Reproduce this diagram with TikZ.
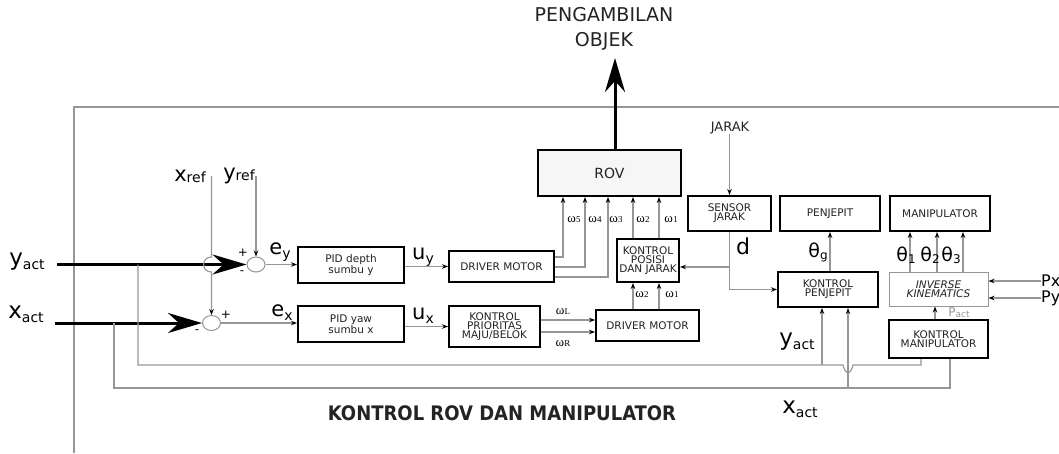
\documentclass[tikz,border=0pt]{standalone}
\usepackage{fontspec}
\setmainfont{DejaVu Sans}
\newfontfamily\condfont{DejaVu Sans Condensed}
\newfontfamily\omegafont{Liberation Serif}
\usepackage{xcolor}
\definecolor{lnGray}{RGB}{150,150,150}
\definecolor{bxFill}{RGB}{246,246,246}
\definecolor{txDark}{RGB}{35,35,35}
\usepackage{tikz}
\usetikzlibrary{arrows.meta, positioning, shapes.geometric, calc}

\newcommand{\fsz}[1]{\fontsize{#1}{#1}\selectfont}
\newcommand{\bigvar}[2]{{\fsz{23}#1}\raisebox{-4pt}{\fsz{14}#2}}
\newcommand{\refvar}[2]{{\fsz{21}#1}\raisebox{-1pt}{\fsz{14}#2}}
\newcommand{\errvar}[2]{{\fsz{21}#1}\raisebox{-4pt}{\fsz{14}#2}}
\newcommand{\om}[1]{{\omegafont\fsz{13}ω\fsz{9}#1}}
\newcommand{\tht}[1]{{\fsz{19}θ}\raisebox{-2pt}{\fsz{12}#1}}

\begin{document}
\begin{tikzpicture}[x=1pt, y=-1pt,
  blok/.style={draw=black, line width=2pt, fill=white, align=center, inner sep=1pt,
               text=txDark, font=\fontsize{10.5}{7.5}\selectfont},
  lbl/.style={inner sep=0pt, text=black},
  sumj/.style={draw=lnGray, line width=1pt, ellipse, minimum width=18pt,
               minimum height=15pt, inner sep=0pt, fill=white},
  ln/.style={draw=lnGray, line width=1.1pt},
  arr/.style={draw=lnGray, line width=1.1pt, -{Stealth[length=6pt, width=4.5pt, color=black]}},
  bigin/.style={draw=black, line width=3pt, -{Stealth[length=34pt, width=20pt, inset=11pt]}},
  frame/.style={draw=lnGray, line width=1.2pt}]
\useasboundingbox (0,0) rectangle (1059,453);

% outer frame
\draw[frame] (74,453) -- (74,107) -- (1059,107);

% blocks
\node[blok, fill=bxFill, minimum width=143pt, minimum height=46pt, font=\fsz{14}] (rov) at (609.5,173) {ROV};
\node[blok, minimum width=106pt, minimum height=36pt] (pidy) at (351,265) {PID depth\\sumbu y};
\node[blok, minimum width=106pt, minimum height=36pt] (pidx) at (351,324) {PID yaw\\sumbu x};
\node[blok, minimum width=105pt, minimum height=31pt] (drvy) at (501.5,266.5) {DRIVER MOTOR};
\node[blok, minimum width=91pt, minimum height=41pt] (prio) at (494.5,326.5) {KONTROL\\PRIORITAS\\MAJU/BELOK};
\node[blok, minimum width=103pt, minimum height=31pt] (drvx) at (647.5,325.5) {DRIVER MOTOR};
\node[blok, minimum width=62pt, minimum height=43pt] (kpos) at (648,260.5) {KONTROL\\POSISI\\DAN JARAK};
\node[blok, minimum width=83pt, minimum height=35pt] (sensor) at (729.5,213.5) {SENSOR\\JARAK};
\node[blok, minimum width=100pt, minimum height=35pt] (penj) at (830,213.5) {PENJEPIT};
\node[blok, minimum width=100pt, minimum height=35pt] (manip) at (940,213.5) {MANIPULATOR};
\node[blok, minimum width=100pt, minimum height=35pt] (kpenj) at (828,289.5) {KONTROL\\PENJEPIT};
\node[blok, draw=lnGray, line width=1pt, minimum width=99pt, minimum height=34pt,
      font=\fontsize{10.5}{7.5}\selectfont\itshape] (ik) at (938.5,289) {INVERSE\\KINEMATICS};
\node[blok, minimum width=99pt, minimum height=38pt] (kman) at (938.5,339) {KONTROL\\MANIPULATOR};

% summing junctions
\node[sumj] (sumy) at (256,264.5) {};
\node[sumj] (sumx) at (211.5,323) {};

% inputs
\coordinate (yin) at (57,264.5);
\coordinate (xin) at (55,323);
\draw[bigin] (yin) -- (sumy.west);
\draw[bigin] (xin) -- (sumx.west);
\node[lbl] (yact) at (27,262) {\bigvar{y}{act}};
\node[lbl] (xact) at (26,314) {\bigvar{x}{act}};

% references
\node[lbl] (xref) at (190,176) {\refvar{x}{ref}};
\node[lbl] (yref) at (239,176) {\refvar{y}{ref}};
\draw[arr] (xref.east -| sumx.north) -- (211.5,257) .. controls (201,257) and (201,272) .. (211.5,272) -- (sumx.north);
\draw[arr] (yref.east -| sumy.north) -- (sumy.north);
\node[lbl, font=\fsz{12}] (py) at (243,253) {+};
\node[lbl, font=\fsz{12}] (my) at (242,273) {-};
\node[lbl, font=\fsz{12}] (px0) at (226,315) {+};
\node[lbl, font=\fsz{12}] (mx) at (197,332) {-};

% forward path
\draw[arr] (sumy.east) -- (pidy.west |- sumy.east);
\draw[arr] (sumx.east) -- (pidx.west |- sumx.east);
\node[lbl] (ey) at (280,252) {\errvar{e}{y}};
\node[lbl] (ex) at (282,313) {\errvar{e}{x}};
\draw[arr] (pidy.east |- drvy.west) -- (drvy.west);
\draw[arr] (pidx.east |- prio.west) -- (prio.west);
\node[lbl] (uy) at (423,257) {\errvar{u}{y}};
\node[lbl] (ux) at (423,316) {\errvar{u}{x}};

\coordinate (wl) at ([yshift=6.5pt]prio.east);
\coordinate (wr) at ([yshift=-5.5pt]prio.east);
\draw[arr] (wl) -- (wl -| drvx.west);
\draw[arr] (wr) -- (wr -| drvx.west);
\node[lbl] (wlt) at (563,312) {\om{L}};
\node[lbl] (wrt) at (563,344) {\om{R}};

% omega lines to ROV
\coordinate (c5) at (563,0);
\coordinate (c4) at (585,0);
\coordinate (c3) at (608,0);
\coordinate (c2) at (633,0);
\coordinate (c1) at (659,0);
\draw[arr] ([yshift=9.5pt]drvy.east) -| (rov.south -| c5);
\draw[arr] ([yshift=-0.5pt]drvy.east) -| (rov.south -| c4);
\draw[arr] ([yshift=-10.5pt]drvy.east) -| (rov.south -| c3);
\draw[arr] (kpos.north -| c2) -- (rov.south -| c2);
\draw[arr] (kpos.north -| c1) -- (rov.south -| c1);
\draw[arr] (drvx.north -| c2) -- (kpos.south -| c2);
\draw[arr] (drvx.north -| c1) -- (kpos.south -| c1);
\node[lbl] (w5) at (574,220) {\om{5}};
\node[lbl] (w4) at (595,220) {\om{4}};
\node[lbl] (w3) at (616,220) {\om{3}};
\node[lbl] (w2) at (643,220) {\om{2}};
\node[lbl] (w1) at (671,220) {\om{1}};
\node[lbl] (w2b) at (642,295) {\om{2}};
\node[lbl] (w1b) at (672,295) {\om{1}};

% ROV output
\node[lbl, align=center, text=txDark, font=\fontsize{19}{25}\selectfont] (peng) at (604,29) {PENGAMBILAN\\OBJEK};
\coordinate (uptip) at (615,58);
\draw[bigin] (rov.north -| uptip) -- (uptip);

% distance sensor
\node[lbl, text=txDark, font=\fsz{13}] (jarak) at (730,128) {JARAK};
\draw[arr] (jarak.south -| sensor.north) -- (sensor.north);
\draw[arr] (sensor.south) |- (kpenj.west);
\coordinate (dsplit) at (729.5,267);
\draw[arr] (dsplit) -- (kpos.east |- dsplit);
\node[lbl, font=\fsz{22}] (dlbl) at (743,246) {d};

% gripper and manipulator
\draw[arr] (kpenj.north -| penj.south) -- (penj.south);
\node[lbl] (thg) at (818,252) {\tht{g}};
\coordinate (t1) at (910,0);
\coordinate (t2) at (937,0);
\coordinate (t3) at (963,0);
\draw[arr] (ik.north -| t1) -- (manip.south -| t1);
\draw[arr] (ik.north -| t2) -- (manip.south -| t2);
\draw[arr] (ik.north -| t3) -- (manip.south -| t3);
\node[lbl] (th1) at (906,255) {\tht{1}};
\node[lbl] (th2) at (930,255) {\tht{2}};
\node[lbl] (th3) at (951,255) {\tht{3}};
\node[lbl, anchor=west, font=\fsz{16}] (pxl) at (1041,281) {Px};
\node[lbl, anchor=west, font=\fsz{16}] (pyl) at (1041,298) {Py};
\draw[arr] (pxl.west) -- (ik.east |- pxl.west);
\draw[arr] (pyl.west) -- (ik.east |- pyl.west);
\coordinate (cp) at (935,0);
\draw[arr] (kman.north -| cp) -- (ik.south -| cp);
\node[lbl, text=lnGray] (pact) at (959,313) {{\fsz{12}P}\raisebox{-1pt}{\fsz{9}act}};

% feedback
\coordinate (yfb) at (138,264.5);
\coordinate (xfb) at (114,323);
\coordinate (cmy) at (921,0);
\coordinate (cmx) at (950,0);
\draw[ln] (yfb) -- (138,365) -- (843,365) .. controls (845,375) and (851,375) .. (853,365) -| (kman.south -| cmy);
\draw[ln] (xfb) -- (114,388) -| (kman.south -| cmx);
\coordinate (ybr) at (822,365);
\coordinate (xbr) at (848,388);
\draw[arr] (ybr) -- (kpenj.south -| ybr);
\draw[arr] (xbr) -- (kpenj.south -| xbr);
\node[lbl] (yact2) at (797,342) {\bigvar{y}{act}};
\node[lbl] (xact2) at (800,409) {\bigvar{x}{act}};

% title
\node[lbl, text=txDark, font=\condfont\bfseries\fsz{20}] (title) at (502,413) {KONTROL ROV DAN MANIPULATOR};
\end{tikzpicture}
\end{document}
